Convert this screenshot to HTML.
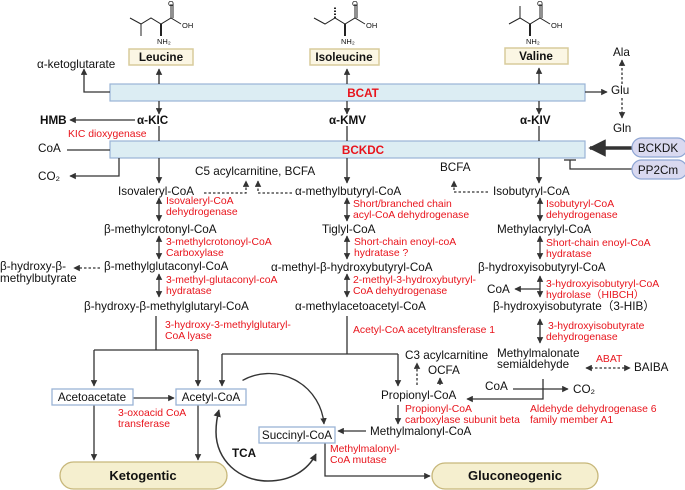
<!DOCTYPE html>
<html><head><meta charset="utf-8"><style>
html,body{margin:0;padding:0;background:#fff}
svg{display:block}
text{font-family:"Liberation Sans","Noto Sans CJK SC",sans-serif;font-size:11.7px;fill:#111}
.r{fill:#e8141c;font-size:10.4px}
.b{font-weight:bold}
</style></head><body>
<svg width="685" height="490" viewBox="0 0 685 490" xmlns="http://www.w3.org/2000/svg">
<defs>
<marker id="a" viewBox="0 0 10 10" refX="9" refY="5" markerWidth="5" markerHeight="5" orient="auto-start-reverse"><path d="M0,0L10,5L0,10z" fill="#333"/></marker>
</defs>
<g stroke="#222" stroke-width="1" fill="none">
<polyline points="130,18 141,24 151,18 161,24 171,18 181,24"/><line x1="141" y1="24" x2="141" y2="36"/><line x1="171" y1="18" x2="171" y2="4"/><line x1="173" y1="18" x2="173" y2="4"/><line x1="161" y1="24" x2="161" y2="36" stroke-width="2"/>
<polyline points="314,18 325,24 335,18 345,24 355,18 365,24"/><line x1="335" y1="18" x2="335" y2="6" stroke-dasharray="1.5,1.5" stroke-width="2"/><line x1="355" y1="18" x2="355" y2="4"/><line x1="357" y1="18" x2="357" y2="4"/><line x1="345" y1="24" x2="345" y2="36" stroke-width="2"/>
<polyline points="509,24 520,18 530,24 540,18 550,24"/><line x1="520" y1="18" x2="520" y2="6"/><line x1="540" y1="18" x2="540" y2="4"/><line x1="542" y1="18" x2="542" y2="4"/><line x1="530" y1="24" x2="530" y2="36" stroke-width="2"/>
</g>
<g><text x="168" y="6" style="font-size:7.5px">O</text><text x="182" y="28" style="font-size:7.5px">OH</text><text x="157" y="44" style="font-size:7.5px">NH₂</text>
<text x="352" y="6" style="font-size:7.5px">O</text><text x="366" y="28" style="font-size:7.5px">OH</text><text x="341" y="44" style="font-size:7.5px">NH₂</text>
<text x="537" y="6" style="font-size:7.5px">O</text><text x="551" y="28" style="font-size:7.5px">OH</text><text x="526" y="44" style="font-size:7.5px">NH₂</text></g>

<rect x="129" y="49" width="64" height="16" fill="#fbf6e4" stroke="#d8cc9c" stroke-width="1.5"/><text x="161" y="61" text-anchor="middle" class="b">Leucine</text>
<rect x="310" y="49" width="69" height="16" fill="#fbf6e4" stroke="#d8cc9c" stroke-width="1.5"/><text x="344" y="61" text-anchor="middle" class="b">Isoleucine</text>
<rect x="505" y="48" width="63" height="16" fill="#fbf6e4" stroke="#d8cc9c" stroke-width="1.5"/><text x="536" y="60" text-anchor="middle" class="b">Valine</text>

<rect x="110" y="84" width="475" height="17" fill="#dcedf3" stroke="#9ab4d6" stroke-width="1.2"/><text x="363" y="97" text-anchor="middle" class="b" style="fill:#e8141c">BCAT</text>
<rect x="110" y="141" width="475" height="17" fill="#dcedf3" stroke="#9ab4d6" stroke-width="1.2"/><text x="363" y="154" text-anchor="middle" class="b" style="fill:#e8141c">BCKDC</text>

<g stroke="#333" stroke-width="1.3" fill="none">
<polyline points="110,92 84,92 84,69" marker-end="url(#a)"/>
<line x1="159" y1="84" x2="159" y2="69" marker-end="url(#a)"/><line x1="159" y1="101" x2="159" y2="114" marker-end="url(#a)"/>
<line x1="347" y1="84" x2="347" y2="69" marker-end="url(#a)"/><line x1="347" y1="101" x2="347" y2="114" marker-end="url(#a)"/>
<line x1="539" y1="84" x2="539" y2="68" marker-end="url(#a)"/><line x1="539" y1="101" x2="539" y2="114" marker-end="url(#a)"/>
<line x1="135" y1="120" x2="70" y2="120" marker-end="url(#a)"/>
<line x1="159" y1="126" x2="159" y2="141"/><line x1="347" y1="126" x2="347" y2="141"/><line x1="539" y1="126" x2="539" y2="141"/>
<line x1="67" y1="150" x2="110" y2="150"/>
<polyline points="119,158 119,176 70,176" marker-end="url(#a)"/>
<line x1="585" y1="92" x2="607" y2="92" marker-end="url(#a)"/>
<line x1="622" y1="84" x2="622" y2="60" stroke-dasharray="2.5,2" marker-end="url(#a)"/>
<line x1="622" y1="98" x2="622" y2="118" stroke-dasharray="2.5,2" marker-end="url(#a)"/>
<line x1="632" y1="148" x2="590" y2="148" stroke-width="3.5" marker-end="url(#a)"/>
<polyline points="632,169 570,169 570,160"/><line x1="564" y1="160" x2="576" y2="160"/>
<line x1="159" y1="158" x2="159" y2="183" marker-end="url(#a)"/>
<line x1="347" y1="158" x2="347" y2="183" marker-end="url(#a)"/>
<line x1="539" y1="158" x2="539" y2="183" marker-end="url(#a)"/>
<g stroke-dasharray="2.5,2"><polyline points="204,193 246,193 246,181" marker-end="url(#a)"/><polyline points="292,193 258,193 258,181" marker-end="url(#a)"/><polyline points="488,192 454,192 454,181" marker-end="url(#a)"/>
<line x1="100" y1="268" x2="74" y2="268" marker-end="url(#a)"/>
<line x1="417" y1="385" x2="417" y2="363" marker-end="url(#a)"/><line x1="440" y1="385" x2="440" y2="378" marker-end="url(#a)"/>
<line x1="586" y1="368" x2="630" y2="368" marker-start="url(#a)" marker-end="url(#a)"/></g>
<g marker-start="url(#a)" marker-end="url(#a)">
<line x1="159" y1="198" x2="159" y2="221"/><line x1="159" y1="236" x2="159" y2="259"/><line x1="159" y1="274" x2="159" y2="297"/>
<line x1="347" y1="198" x2="347" y2="221"/><line x1="347" y1="236" x2="347" y2="259"/><line x1="347" y1="274" x2="347" y2="297"/>
<line x1="540" y1="198" x2="540" y2="221"/><line x1="540" y1="236" x2="540" y2="259"/><line x1="540" y1="276" x2="540" y2="297"/><line x1="540" y1="319" x2="540" y2="343"/>
</g>
<line x1="540" y1="289" x2="515" y2="289" marker-end="url(#a)"/>
<polyline points="156,316 156,350"/><line x1="94" y1="350" x2="198" y2="350"/>
<line x1="94" y1="350" x2="94" y2="386" marker-end="url(#a)"/><line x1="198" y1="350" x2="198" y2="386" marker-end="url(#a)"/>
<line x1="133" y1="398" x2="174" y2="398" marker-end="url(#a)"/>
<line x1="94" y1="405" x2="94" y2="460" marker-end="url(#a)"/><line x1="198" y1="405" x2="198" y2="460" marker-end="url(#a)"/>
<line x1="347" y1="316" x2="347" y2="354"/><line x1="222" y1="354" x2="398" y2="354"/>
<line x1="222" y1="354" x2="222" y2="386" marker-end="url(#a)"/><line x1="398" y1="354" x2="398" y2="386" marker-end="url(#a)"/>
<line x1="398" y1="405" x2="398" y2="424" marker-end="url(#a)"/>
<line x1="366" y1="431" x2="338" y2="431" marker-end="url(#a)"/>
<polyline points="325,443 325,476 430,476" marker-end="url(#a)"/>
<line x1="513" y1="389" x2="568" y2="389" marker-end="url(#a)"/>
<polyline points="543,379 543,399 467,399" marker-end="url(#a)"/>
<path d="M242.5,380.4 A55,55 0 0 1 324,424" marker-end="url(#a)"/>
<path d="M268,481 C239,481 216,460 216,432 C216,424 217,417 219,410" stroke-width="1.5" marker-end="url(#a)"/>
<path d="M268,481 C291,481 308,470 316,454" stroke-width="1.5" marker-end="url(#a)"/>
</g>

<rect x="632" y="138" width="55" height="19" rx="9.5" fill="#d9d9f0" stroke="#8fa6d4" stroke-width="1.2"/><text x="658" y="152" text-anchor="middle">BCKDK</text>
<rect x="632" y="160" width="55" height="19" rx="9.5" fill="#d9d9f0" stroke="#8fa6d4" stroke-width="1.2"/><text x="658" y="174" text-anchor="middle">PP2Cm</text>
<rect x="60" y="462" width="167" height="27" rx="13.5" fill="#f5efcf" stroke="#c7b77a" stroke-width="1.3"/><text x="143" y="480" text-anchor="middle" class="b" style="font-size:13px">Ketogentic</text>
<rect x="432" y="463" width="166" height="26" rx="13" fill="#f5efcf" stroke="#c7b77a" stroke-width="1.3"/><text x="515" y="480" text-anchor="middle" class="b" style="font-size:13px">Gluconeogenic</text>
<rect x="52" y="389" width="81" height="16" fill="#fff" stroke="#9ab4d6" stroke-width="1.3"/><text x="92" y="401" text-anchor="middle">Acetoacetate</text>
<rect x="176" y="389" width="70" height="16" fill="#fff" stroke="#9ab4d6" stroke-width="1.3"/><text x="211" y="401" text-anchor="middle">Acetyl-CoA</text>
<rect x="259" y="427" width="76" height="16" fill="#fff" stroke="#9ab4d6" stroke-width="1.3"/><text x="297" y="439" text-anchor="middle">Succinyl-CoA</text>

<text x="37" y="68">α-ketoglutarate</text>
<text x="40" y="124" class="b">HMB</text><text x="137" y="124" class="b">α-KIC</text><text x="329" y="124" class="b">α-KMV</text><text x="520" y="124" class="b">α-KIV</text>
<text x="38" y="152">CoA</text><text x="38" y="180">CO₂</text>
<text x="613" y="56">Ala</text><text x="611" y="94">Glu</text><text x="613" y="132">Gln</text>
<text x="195" y="175">C5 acylcarnitine, BCFA</text><text x="440" y="171">BCFA</text>
<text x="118" y="195">Isovaleryl-CoA</text><text x="295" y="195">α-methylbutyryl-CoA</text><text x="493" y="195">Isobutyryl-CoA</text>
<text x="104" y="233">β-methylcrotonyl-CoA</text><text x="322" y="233">Tiglyl-CoA</text><text x="497" y="233">Methylacrylyl-CoA</text>
<text x="0" y="270">β-hydroxy-β-</text><text x="0" y="282">methylbutyrate</text>
<text x="104" y="270">β-methylglutaconyl-CoA</text><text x="271" y="271">α-methyl-β-hydroxybutyryl-CoA</text><text x="478" y="271">β-hydroxyisobutyryl-CoA</text>
<text x="487" y="293">CoA</text>
<text x="84" y="310">β-hydroxy-β-methylglutaryl-CoA</text><text x="295" y="310">α-methylacetoacetyl-CoA</text><text x="493" y="310">β-hydroxyisobutyrate（3-HIB）</text>
<text x="405" y="359">C3 acylcarnitine</text><text x="428" y="374">OCFA</text>
<text x="497" y="357">Methylmalonate</text><text x="497" y="368">semialdehyde</text><text x="634" y="371">BAIBA</text>
<text x="485" y="390">CoA</text><text x="573" y="393">CO₂</text>
<text x="381" y="399">Propionyl-CoA</text><text x="370" y="435">Methylmalonyl-CoA</text>
<text x="232" y="457" class="b">TCA</text>

<text class="r" x="68" y="137">KIC dioxygenase</text>
<text class="r" x="166" y="204">Isovaleryl-CoA</text><text class="r" x="166" y="215">dehydrogenase</text>
<text class="r" x="166" y="245">3-methylcrotonoyl-CoA</text><text class="r" x="166" y="256">Carboxylase</text>
<text class="r" x="166" y="283">3-methyl-glutaconyl-coA</text><text class="r" x="166" y="294">hydratase</text>
<text class="r" x="165" y="328">3-hydroxy-3-methylglutaryl-</text><text class="r" x="165" y="339">CoA lyase</text>
<text class="r" x="118" y="416">3-oxoacid CoA</text><text class="r" x="118" y="427">transferase</text>
<text class="r" x="353" y="207">Short/branched chain</text><text class="r" x="353" y="218">acyl-CoA dehydrogenase</text>
<text class="r" x="354" y="245">Short-chain enoyl-coA</text><text class="r" x="354" y="256">hydratase ?</text>
<text class="r" x="353" y="283">2-methyl-3-hydroxybutyryl-</text><text class="r" x="353" y="294">CoA dehydrogenase</text>
<text class="r" x="353" y="333">Acetyl-CoA acetyltransferase 1</text>
<text class="r" x="546" y="207">Isobutyryl-CoA</text><text class="r" x="546" y="218">dehydrogenase</text>
<text class="r" x="546" y="246">Short-chain enoyl-CoA</text><text class="r" x="546" y="257">hydratase</text>
<text class="r" x="546" y="287">3-hydroxyisobutyryl-CoA</text><text class="r" x="546" y="298">hydrolase（HIBCH）</text>
<text class="r" x="548" y="329">3-hydroxyisobutyrate</text><text class="r" x="546" y="340">dehydrogenase</text>
<text class="r" x="596" y="362">ABAT</text>
<text class="r" x="530" y="412">Aldehyde dehydrogenase 6</text><text class="r" x="530" y="423">family member A1</text>
<text class="r" x="405" y="412">Propionyl-CoA</text><text class="r" x="405" y="423">carboxylase subunit beta</text>
<text class="r" x="330" y="452">Methylmalonyl-</text><text class="r" x="330" y="463">CoA mutase</text>
</svg>
</body></html>
